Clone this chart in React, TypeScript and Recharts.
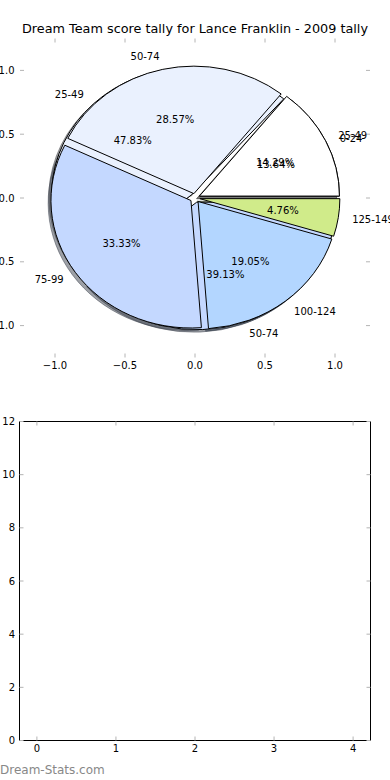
import React from 'react';
import { ScatterChart, Scatter, XAxis, YAxis, PieChart, Pie, Cell } from 'recharts';

const title = 'Dream Team score tally for Lance Franklin - 2009 tally';
const watermark = 'Dream-Stats.com';

// main tally pie (drawn on top)
const tallyLabels = ['25-49', '50-74', '75-99', '100-124', '125-149'];
const tallyPct = [14.29, 28.57, 33.33, 19.05, 4.76];
const tallyColors = ['#ffffff', '#eaf1fe', '#c4d8ff', '#b3d6ff', '#d0eb8a'];

// second pie drawn underneath, only its labels and edges show through
const underLabels = ['0-24', '25-49', '50-74'];
const underPct = [13.64, 47.83, 39.13];
const underColors = ['#ffffff', '#eaf1fe', '#c4d8ff'];

const pieTicks = [-1, -0.5, 0, 0.5, 1];
const lowerXTicks = [0, 1, 2, 3, 4];
const lowerYTicks = [0, 2, 4, 6, 8, 10, 12];

// the lower axes hold no points at all
const lowerPoints: { x: number; y: number }[] = [];

const FONT = '"DejaVu Sans", sans-serif';
const TICK = '#b4b4b4';
const RAD = Math.PI / 180;

// pie geometry (the axes are not square, so the pie is an ellipse)
const CX = 195;
const CY = 198;
const R = 140;
const KY = 127.5 / 140;
const EXPLODE = 0.035;
const SHADOW = 0.02;

const fmt1 = (v: number) => (v < 0 ? '\u2212' + Math.abs(v).toFixed(1) : v.toFixed(1));
const fmt0 = (v: number) => String(v);

const tallyData = tallyLabels.map((name, i) => ({ name, value: tallyPct[i] }));
const underData = underLabels.map((name, i) => ({ name, value: underPct[i] }));

function shade(hex: string) {
  const n = parseInt(hex.slice(1), 16);
  const r = Math.round(((n >> 16) & 255) * 0.3);
  const g = Math.round(((n >> 8) & 255) * 0.3);
  const b = Math.round((n & 255) * 0.3);
  return `rgb(${r},${g},${b})`;
}

function wedgePath(cx: number, cy: number, r: number, a0: number, a1: number, dx: number, dy: number) {
  const ox = cx + dx;
  const oy = cy + dy;
  const x0 = ox + r * Math.cos(a0 * RAD);
  const y0 = oy - r * KY * Math.sin(a0 * RAD);
  const x1 = ox + r * Math.cos(a1 * RAD);
  const y1 = oy - r * KY * Math.sin(a1 * RAD);
  const large = Math.abs(a1 - a0) > 180 ? 1 : 0;
  return `M${ox},${oy} L${x0},${y0} A${r},${r * KY} 0 ${large} 0 ${x1},${y1} Z`;
}

const wedge = (shadow: boolean) => (p: any) => {
  const { cx, cy, outerRadius, startAngle, endAngle, fill } = p;
  const mid = (startAngle + endAngle) / 2;
  let dx = EXPLODE * outerRadius * Math.cos(mid * RAD);
  let dy = -EXPLODE * outerRadius * KY * Math.sin(mid * RAD);
  if (shadow) {
    dx -= SHADOW * outerRadius;
    dy += SHADOW * outerRadius * KY;
    const c = shade(fill);
    return (
      <path d={wedgePath(cx, cy, outerRadius, startAngle, endAngle, dx, dy)} fill={c} fillOpacity={0.5} stroke={c} strokeOpacity={0.5} strokeWidth={1} />
    );
  }
  return (
    <path d={wedgePath(cx, cy, outerRadius, startAngle, endAngle, dx, dy)} fill={fill} stroke="#000" strokeWidth={1} strokeLinejoin="round" />
  );
};

const pieLabel = (p: any) => {
  const { cx, cy, outerRadius, midAngle, name, value } = p;
  const c = Math.cos(midAngle * RAD);
  const s = Math.sin(midAngle * RAD);
  const ox = cx + EXPLODE * outerRadius * c;
  const oy = cy - EXPLODE * outerRadius * KY * s;
  const lx = ox + 1.1 * outerRadius * c;
  const ly = oy - 1.1 * outerRadius * KY * s;
  const px = ox + 0.6 * outerRadius * c;
  const py = oy - 0.6 * outerRadius * KY * s;
  return (
    <g>
      <text x={lx} y={ly} textAnchor={lx > cx ? 'start' : 'end'} dominantBaseline="central" fontSize={10} fontFamily={FONT} fill="#000">
        {name}
      </text>
      <text x={px} y={py} textAnchor="middle" dominantBaseline="central" fontSize={10} fontFamily={FONT} fill="#000">
        {value.toFixed(2)}%
      </text>
    </g>
  );
};

const noTick = () => <g />;
const tickStyle = { fontSize: 10, fill: '#000', fontFamily: FONT };

export default function App() {
  return (
    <div style={{ position: 'absolute', left: 0, top: 0, width: 390, height: 780, background: '#fff', overflow: 'hidden' }}>
      <div
        style={{
          position: 'absolute', left: 0, top: 20, width: 390, textAlign: 'center',
          fontFamily: FONT, fontSize: 12.8, color: '#000', lineHeight: '18px', whiteSpace: 'nowrap',
        }}
      >
        {title}
      </div>

      {/* upper axes: ticks only, no frame */}
      <div style={{ position: 'absolute', left: 0, top: 0 }}>
        <ScatterChart width={390} height={380} margin={{ top: 38.5, right: 20, bottom: 0, left: 0 }}>
          <XAxis xAxisId="b" dataKey="x" type="number" domain={[-1.25, 1.25]} ticks={pieTicks} tickFormatter={fmt1}
            allowDataOverflow axisLine={false} tickSize={-4} tickMargin={8} tickLine={{ stroke: TICK }}
            height={22.5} tick={tickStyle} interval={0} />
          <XAxis xAxisId="t" dataKey="x" orientation="top" mirror type="number" domain={[-1.25, 1.25]} ticks={pieTicks}
            allowDataOverflow axisLine={false} tickSize={4} tickLine={{ stroke: TICK }} tick={noTick} interval={0} />
          <YAxis yAxisId="l" dataKey="y" type="number" domain={[-1.25, 1.25]} ticks={pieTicks} tickFormatter={fmt1}
            allowDataOverflow axisLine={false} tickSize={-4} tickMargin={9.5} tickLine={{ stroke: TICK }}
            width={20} tick={tickStyle} interval={0} />
          <YAxis yAxisId="r" dataKey="y" orientation="right" mirror type="number" domain={[-1.25, 1.25]} ticks={pieTicks}
            allowDataOverflow axisLine={false} tickSize={4} tickLine={{ stroke: TICK }} tick={noTick} interval={0} />
          <Scatter data={lowerPoints} xAxisId="b" yAxisId="l" isAnimationActive={false} />
          <Scatter data={lowerPoints} xAxisId="t" yAxisId="r" isAnimationActive={false} />
        </ScatterChart>
      </div>

      {/* the pies */}
      <div style={{ position: 'absolute', left: 0, top: 0 }}>
        <PieChart width={390} height={380} margin={{ top: 0, right: 0, bottom: 0, left: 0 }}>
          <Pie data={underData} dataKey="value" nameKey="name" cx={CX} cy={CY} outerRadius={R}
            startAngle={0} endAngle={360} shape={wedge(true)} stroke="none" isAnimationActive={false}>
            {underColors.map((c, i) => <Cell key={i} fill={c} />)}
          </Pie>
          <Pie data={tallyData} dataKey="value" nameKey="name" cx={CX} cy={CY} outerRadius={R}
            startAngle={0} endAngle={360} shape={wedge(true)} stroke="none" isAnimationActive={false}>
            {tallyColors.map((c, i) => <Cell key={i} fill={c} />)}
          </Pie>
          <Pie data={underData} dataKey="value" nameKey="name" cx={CX} cy={CY} outerRadius={R}
            startAngle={0} endAngle={360} shape={wedge(false)} stroke="none" isAnimationActive={false}>
            {underColors.map((c, i) => <Cell key={i} fill={c} />)}
          </Pie>
          <Pie data={tallyData} dataKey="value" nameKey="name" cx={CX} cy={CY} outerRadius={R}
            startAngle={0} endAngle={360} shape={wedge(false)} stroke="none" isAnimationActive={false}
            label={pieLabel} labelLine={false}>
            {tallyColors.map((c, i) => <Cell key={i} fill={c} />)}
          </Pie>
          <Pie data={underData} dataKey="value" nameKey="name" cx={CX} cy={CY} outerRadius={R}
            startAngle={0} endAngle={360} shape={noTick} fill="none" stroke="none" isAnimationActive={false}
            label={pieLabel} labelLine={false} />
        </PieChart>
      </div>

      {/* lower, empty axes */}
      <div style={{ position: 'absolute', left: 0, top: 380 }}>
        <ScatterChart width={390} height={400} margin={{ top: 41.5, right: 19.5, bottom: 0, left: 0 }}>
          <XAxis xAxisId="b" dataKey="x" type="number" domain={[-0.22, 4.22]} ticks={lowerXTicks} tickFormatter={fmt0}
            allowDataOverflow axisLine={{ stroke: '#000' }} tickSize={-4} tickMargin={8.5} tickLine={{ stroke: TICK }}
            height={39.5} tick={tickStyle} interval={0} />
          <XAxis xAxisId="t" dataKey="x" orientation="top" mirror type="number" domain={[-0.22, 4.22]} ticks={lowerXTicks}
            allowDataOverflow axisLine={{ stroke: '#000' }} tickSize={4} tickLine={{ stroke: TICK }} tick={noTick} interval={0} />
          <YAxis yAxisId="l" dataKey="y" type="number" domain={[0, 12]} ticks={lowerYTicks} tickFormatter={fmt0}
            allowDataOverflow axisLine={{ stroke: '#000' }} tickSize={-4} tickMargin={8.5} tickLine={{ stroke: TICK }}
            width={19.5} tick={tickStyle} interval={0} />
          <YAxis yAxisId="r" dataKey="y" orientation="right" mirror type="number" domain={[0, 12]} ticks={lowerYTicks}
            allowDataOverflow axisLine={{ stroke: '#000' }} tickSize={4} tickLine={{ stroke: TICK }} tick={noTick} interval={0} />
          <Scatter data={lowerPoints} xAxisId="b" yAxisId="l" isAnimationActive={false} />
          <Scatter data={lowerPoints} xAxisId="t" yAxisId="r" isAnimationActive={false} />
        </ScatterChart>
      </div>

      <div
        style={{
          position: 'absolute', left: 0, top: 762, fontFamily: FONT, fontSize: 12,
          color: '#888888', lineHeight: '16px', whiteSpace: 'nowrap',
        }}
      >
        {watermark}
      </div>
    </div>
  );
}
